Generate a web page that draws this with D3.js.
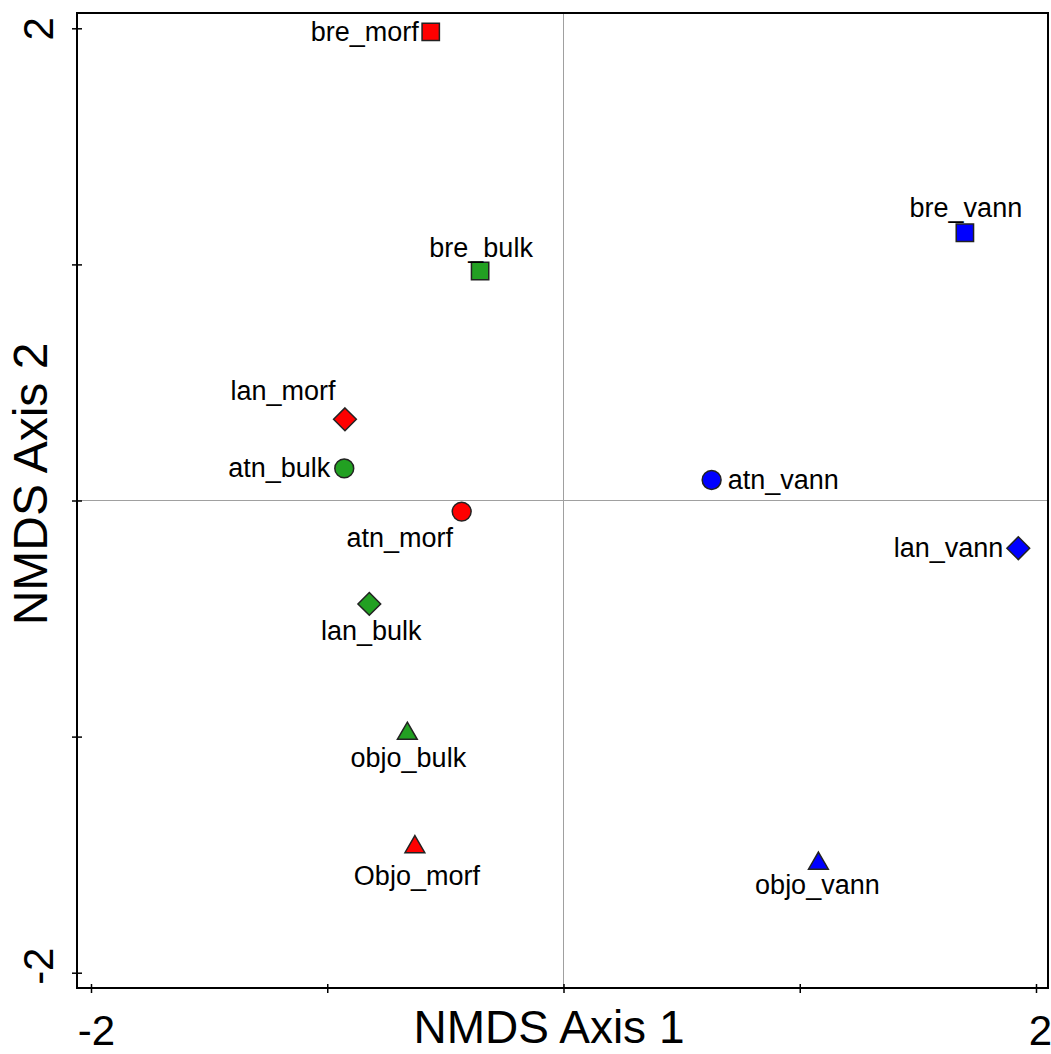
<!DOCTYPE html>
<html>
<head>
<meta charset="utf-8">
<script src="https://cdn.jsdelivr.net/npm/d3@7"></script>
<style>
  html, body { margin: 0; padding: 0; background: #fff; }
  svg { display: block; font-family: "Liberation Sans", Arial, sans-serif; }
</style>
</head>
<body>
<svg id="chart" width="1051" height="1054"></svg>
<script>
// ---- data ----
const sampleNames = ["bre_morf","bre_bulk","bre_vann","lan_morf","atn_bulk","atn_morf","atn_vann","lan_vann","lan_bulk","objo_bulk","Objo_morf","objo_vann"];
const axis1 = [-0.562,-0.353,1.699,-0.925,-0.928,-0.431,0.627,1.925,-0.822,-0.661,-0.629,1.079];
const axis2 = [1.985,0.972,1.134,0.344,0.136,-0.047,0.087,-0.202,-0.438,-0.979,-1.459,-1.529];
const fraction = ["morf","bulk","vann","morf","bulk","morf","vann","vann","bulk","bulk","morf","vann"];
const site = ["bre","bre","bre","lan","atn","atn","atn","lan","lan","objo","objo","objo"];
const xTicks = [-2,-1,0,1,2];
const yTicks = [-2,-1,0,1,2];
const labeledTicks = [-2,2];

// ---- styling / layout ----
const colorOf = {morf:"#ff0000", bulk:"#22a022", vann:"#0000ff"};
const shapeOf = {bre:d3.symbolSquare, lan:d3.symbolDiamond2, atn:d3.symbolCircle, objo:d3.symbolTriangle};
const sizeOf = {bre:300, lan:330, atn:280, objo:170};
// label placement: [dx, dy(baseline), anchor]
const labelPlace = {
  bre_morf:[-12,9,"end"], bre_bulk:[1,-14,"middle"], bre_vann:[1,-16,"middle"],
  lan_morf:[-62,-19,"middle"], atn_bulk:[-14,9,"end"], atn_morf:[-62,35,"middle"],
  atn_vann:[16,9,"start"], lan_vann:[-15,9,"end"], lan_bulk:[2,36,"middle"],
  objo_bulk:[1,35,"middle"], Objo_morf:[2,40,"middle"], objo_vann:[-1,33,"middle"]
};

const box = {left:77, right:1048, top:13, bottom:988};
const x = d3.scaleLinear().domain([-2,2]).range([91,1036]);
const y = d3.scaleLinear().domain([-2,2]).range([972.7,28.3]);

const svg = d3.select("#chart");

// zero lines
svg.append("line").attr("x1",x(0)).attr("x2",x(0)).attr("y1",box.top).attr("y2",box.bottom)
  .attr("stroke","#a0a0a0").attr("stroke-width",1);
svg.append("line").attr("x1",box.left).attr("x2",box.right).attr("y1",y(0)).attr("y2",y(0))
  .attr("stroke","#a0a0a0").attr("stroke-width",1);

// axes (ticks crossing box edges)
const fmt = d => labeledTicks.includes(d) ? String(d) : "";
const gx = svg.append("g").attr("transform",`translate(0,${box.bottom-4})`)
  .call(d3.axisBottom(x).tickValues(xTicks).tickSize(9).tickPadding(22).tickFormat(fmt));
gx.select(".domain").remove();
gx.selectAll("line").attr("stroke","#000").attr("stroke-width",1.5);
gx.selectAll("text").attr("font-size",42).attr("fill","#000")
  .attr("font-family","'Liberation Sans', Arial, sans-serif")
  .attr("dx", d => d < 0 ? 5 : 4);

const gy = svg.append("g").attr("transform",`translate(${box.left+5},0)`)
  .call(d3.axisLeft(y).tickValues(yTicks).tickSize(10).tickPadding(0).tickFormat(""));
gy.select(".domain").remove();
gy.selectAll("line").attr("stroke","#000").attr("stroke-width",1.5);
gy.selectAll("g.tick").filter(d => labeledTicks.includes(d)).append("text")
  .attr("transform","rotate(-90)")
  .attr("x", d => d < 0 ? 7 : 0)
  .attr("y",-29)
  .attr("text-anchor","middle")
  .attr("font-size",42).attr("fill","#000")
  .attr("font-family","'Liberation Sans', Arial, sans-serif")
  .text(d => String(d));

// box
svg.append("rect").attr("x",box.left).attr("y",box.top)
  .attr("width",box.right-box.left).attr("height",box.bottom-box.top)
  .attr("fill","none").attr("stroke","#000").attr("stroke-width",2);

// axis titles
svg.append("text").attr("x",549).attr("y",1043).attr("text-anchor","middle")
  .attr("font-size",46).attr("fill","#000").text("NMDS Axis 1");
svg.append("text").attr("transform","translate(47,484) rotate(-90)").attr("text-anchor","middle")
  .attr("font-size",48).attr("fill","#000").text("NMDS Axis 2");

// points
const pts = sampleNames.map((n,i) => ({name:n, x:axis1[i], y:axis2[i], frac:fraction[i], site:site[i]}));
svg.append("g").selectAll("path").data(pts).join("path")
  .attr("transform", d => {
    const dy = d.site === "objo" ? 2 : 0;
    return `translate(${x(d.x)},${y(d.y)+dy})`;
  })
  .attr("d", d => d3.symbol().type(shapeOf[d.site]).size(sizeOf[d.site])())
  .attr("fill", d => colorOf[d.frac])
  .attr("stroke","#222").attr("stroke-width",1.5);

// labels
svg.append("g").selectAll("text").data(pts).join("text")
  .attr("x", d => x(d.x) + labelPlace[d.name][0])
  .attr("y", d => y(d.y) + labelPlace[d.name][1])
  .attr("text-anchor", d => labelPlace[d.name][2])
  .attr("font-size",27).attr("fill","#000")
  .text(d => d.name);
</script>
</body>
</html>
